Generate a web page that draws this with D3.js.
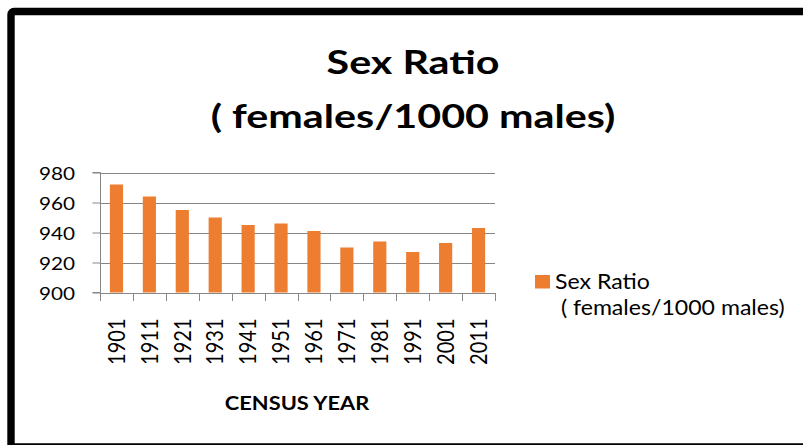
<!DOCTYPE html>
<html>
<head>
<meta charset="utf-8">
<script src="https://cdn.jsdelivr.net/npm/d3@7"></script>
<style>
  body { margin: 0; background: #fff; }
  text { font-family: Lato, "Open Sans", sans-serif; fill: #000; }
</style>
</head>
<body>
<svg width="803" height="445"></svg>
<script>
var years = ["1901", "1911", "1921", "1931", "1941", "1951", "1961", "1971", "1981", "1991", "2001", "2011"];
var sexRatio = [972, 964, 955, 950, 945, 946, 941, 930, 934, 927, 933, 943];
var yTicks = [900, 920, 940, 960, 980];
var titleLines = ["Sex Ratio", "( females/1000 males)"];
var legendLines = ["Sex Ratio", " ( females/1000 males)"];

var svg = d3.select("svg"),
    width = +svg.attr("width"),
    height = +svg.attr("height");

var orange = "#ed7d31",
    grid = "#868686";

// text in the picture is stretched sideways
function stretched(x, y, sx, extra) {
  return "translate(" + x + "," + y + ") scale(" + sx + ",1)" + (extra || "");
}

// outer frame, cut by the right and bottom edges
svg.append("rect")
    .attr("x", 11)
    .attr("y", 11.5)
    .attr("width", width)
    .attr("height", height - 9.5)
    .attr("rx", 3)
    .attr("fill", "none")
    .attr("stroke", "#000")
    .attr("stroke-width", 7.4);

var x = d3.scaleBand()
    .domain(years)
    .range([100, 495])
    .paddingInner(0.6)
    .paddingOuter(0.3);

var y = d3.scaleLinear()
    .domain([900, 980])
    .range([292.5, 172.5]);

// gridlines
svg.append("g")
  .selectAll("line")
  .data(yTicks)
  .enter().append("line")
    .attr("x1", 100)
    .attr("x2", 495)
    .attr("y1", function(d) { return Math.round(y(d)) + 0.5; })
    .attr("y2", function(d) { return Math.round(y(d)) + 0.5; })
    .attr("stroke", grid);

// y axis
var gy = svg.append("g")
    .attr("transform", "translate(100.5,0)")
    .call(d3.axisLeft(y).tickValues(yTicks).tickSize(8).tickFormat(d3.format("d")));
gy.selectAll("line, path").attr("stroke", grid);
gy.select(".domain").attr("d", "M-8," + y(900) + "H0V" + y(980) + "H-8");
gy.selectAll("text")
    .attr("x", null)
    .attr("dy", null)
    .attr("font-size", 18)
    .attr("text-anchor", "end")
    .attr("transform", stretched(-25.5, 6.5, 1.15));

// bars
svg.append("g")
  .selectAll("rect")
  .data(sexRatio)
  .enter().append("rect")
    .attr("x", function(d, i) { return x(years[i]); })
    .attr("width", x.bandwidth())
    .attr("y", function(d) { return y(d); })
    .attr("height", function(d) { return y(900) - y(d); })
    .attr("fill", orange);

// x axis with ticks between categories
var bounds = d3.range(years.length + 1).map(function(i) { return x.range()[0] + i * x.step(); });
var gx = svg.append("g");
gx.append("line")
    .attr("x1", 100).attr("x2", 495)
    .attr("y1", Math.round(y(900)) + 0.5).attr("y2", Math.round(y(900)) + 0.5)
    .attr("stroke", grid);
gx.selectAll(".tick")
  .data(bounds)
  .enter().append("line")
    .attr("x1", function(d) { return Math.round(d) + 0.5; })
    .attr("x2", function(d) { return Math.round(d) + 0.5; })
    .attr("y1", Math.round(y(900)))
    .attr("y2", Math.round(y(900)) + 8)
    .attr("stroke", grid);
gx.selectAll("text")
  .data(years)
  .enter().append("text")
    .attr("font-size", 20)
    .attr("text-anchor", "end")
    .attr("dy", "0.36em")
    .attr("transform", function(d) { return stretched(x(d) + x.bandwidth() / 2, 318.5, 1.15, " rotate(-90)"); })
    .text(function(d) { return d; });

// axis title
svg.append("text")
    .attr("font-size", 19)
    .attr("font-weight", "bold")
    .attr("text-anchor", "middle")
    .attr("transform", stretched(297, 409.5, 1.15))
    .text("CENSUS YEAR");

// chart title
svg.selectAll(".title")
  .data(titleLines)
  .enter().append("text")
    .attr("class", "title")
    .attr("font-size", 33)
    .attr("font-weight", "bold")
    .attr("text-anchor", "middle")
    .attr("transform", function(d, i) { return stretched(413, 73.5 + i * 54, 1.25); })
    .text(function(d) { return d; });

// legend
svg.append("rect")
    .attr("x", 535)
    .attr("y", 275)
    .attr("width", 15)
    .attr("height", 13.5)
    .attr("fill", orange);
svg.selectAll(".legend")
  .data(legendLines)
  .enter().append("text")
    .attr("class", "legend")
    .attr("font-size", 21)
    .style("white-space", "pre")
    .attr("transform", function(d, i) { return stretched(555, 288.5 + i * 26.7, 1.1); })
    .text(function(d) { return d; });
</script>
</body>
</html>
